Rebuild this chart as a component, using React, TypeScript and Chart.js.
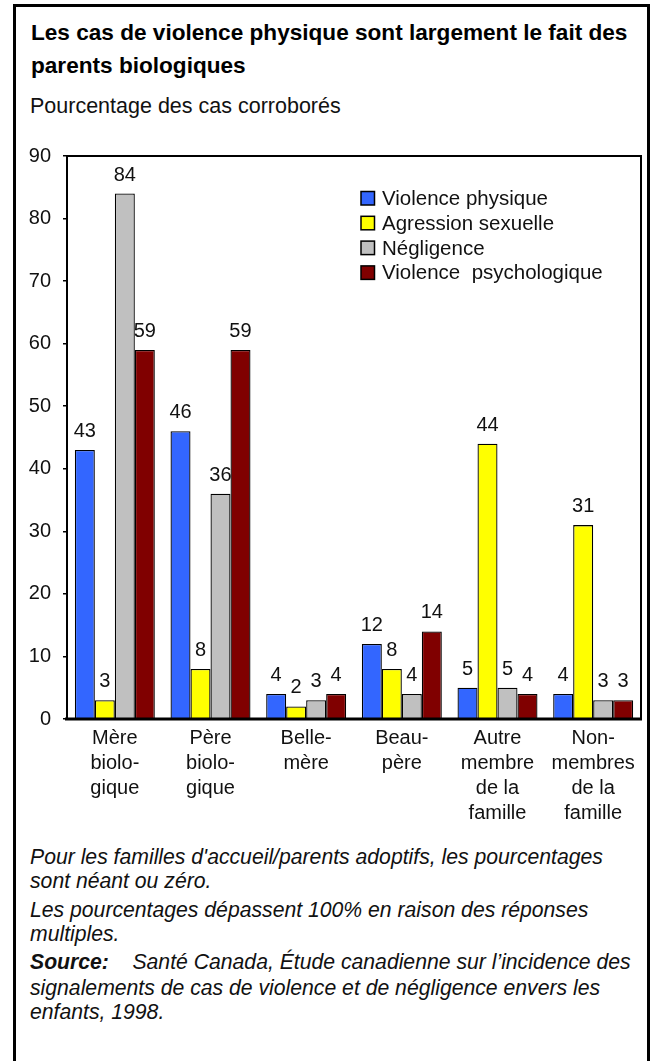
import React, { useEffect, useRef } from "react";
import { Chart, registerables } from "chart.js";

Chart.register(...registerables);

const FONT = '"Liberation Sans", Arial, Helvetica, sans-serif';

const categories: string[][] = [
  ["Mère", "biolo-", "gique"],
  ["Père", "biolo-", "gique"],
  ["Belle-", "mère"],
  ["Beau-", "père"],
  ["Autre", "membre", "de la", "famille"],
  ["Non-", "membres", "de la", "famille"],
];

const seriesNames = [
  "Violence physique",
  "Agression sexuelle",
  "Négligence",
  "Violence  psychologique",
];

const physicalAbuse = [43, 46, 4, 12, 5, 4];
const sexualAbuse = [3, 8, 2, 8, 44, 31];
const neglect = [84, 36, 3, 4, 5, 3];
const emotionalAbuse = [59, 59, 4, 14, 4, 3];

const seriesColors = ["#3366FF", "#FFFF00", "#C0C0C0", "#800000"];

const yMin = 0;
const yMax = 90;
const yStep = 10;

const titleLines = [
  "Les cas de violence physique sont largement le fait des",
  "parents biologiques",
];
const subtitle = "Pourcentage des cas corroborés";

const overlayPlugin = {
  id: "overlayPlugin",
  afterDatasetsDraw(chart: any) {
    const ctx = chart.ctx;
    const a = chart.chartArea;
    ctx.save();
    ctx.strokeStyle = "#000";
    ctx.lineWidth = 2;
    ctx.beginPath();
    ctx.moveTo(a.left, a.bottom);
    ctx.lineTo(a.left, a.top);
    ctx.lineTo(a.right, a.top);
    ctx.lineTo(a.right, a.bottom);
    ctx.stroke();
    ctx.lineWidth = 3;
    ctx.beginPath();
    ctx.moveTo(a.left - 2, a.bottom);
    ctx.lineTo(a.right + 1, a.bottom);
    ctx.stroke();

    ctx.font = `20px ${FONT}`;
    ctx.fillStyle = "#111";
    ctx.textAlign = "center";
    ctx.textBaseline = "alphabetic";
    chart.data.datasets.forEach((ds: any, i: number) => {
      const meta = chart.getDatasetMeta(i);
      meta.data.forEach((el: any, j: number) => {
        ctx.fillText(String(ds.data[j]), el.x, el.y - 13);
      });
    });

    const lx = 361;
    const baseY = 65;
    const step = 24.8;
    ctx.textAlign = "left";
    ctx.font = `20.5px ${FONT}`;
    chart.data.datasets.forEach((ds: any, i: number) => {
      const by = baseY + i * step;
      ctx.fillStyle = ds.backgroundColor;
      ctx.fillRect(lx, by - 13.5, 13.5, 13.5);
      ctx.strokeStyle = "#000";
      ctx.lineWidth = 1.5;
      ctx.strokeRect(lx, by - 13.5, 13.5, 13.5);
      ctx.fillStyle = "#111";
      ctx.fillText(ds.label, lx + 21, by);
    });
    ctx.restore();
  },
};

function BarChart() {
  const ref = useRef<HTMLCanvasElement | null>(null);
  useEffect(() => {
    if (!ref.current) return;
    const series = [physicalAbuse, sexualAbuse, neglect, emotionalAbuse];
    const chart = new Chart(ref.current, {
      type: "bar",
      data: {
        labels: categories,
        datasets: series.map((d, i) => ({
          label: seriesNames[i],
          data: d,
          backgroundColor: seriesColors[i],
          borderColor: "#000",
          borderWidth: 1.3,
          categoryPercentage: 0.836,
          barPercentage: 1,
        })),
      },
      options: {
        responsive: false,
        animation: false,
        devicePixelRatio: 1,
        layout: { padding: { top: 16, right: 9, left: 0, bottom: 0 } },
        plugins: {
          legend: { display: false },
          title: { display: false },
          tooltip: { enabled: false },
        },
        scales: {
          x: {
            grid: { display: false, drawTicks: false },
            border: { display: false },
            ticks: {
              padding: 7,
              color: "#111",
              font: { family: FONT, size: 20, lineHeight: 1.25 },
              maxRotation: 0,
              autoSkip: false,
            },
            afterFit: (s: any) => {
              s.height = 121;
              s.paddingLeft = 0;
              s.paddingRight = 0;
            },
          },
          y: {
            min: yMin,
            max: yMax,
            ticks: {
              stepSize: yStep,
              padding: 12,
              color: "#111",
              font: { family: FONT, size: 20 },
            },
            grid: {
              drawOnChartArea: false,
              drawTicks: true,
              tickLength: 4,
              color: "#000",
              lineWidth: 1.5,
            },
            border: { display: false },
            afterFit: (s: any) => {
              s.width = 67;
              s.paddingTop = 0;
              s.paddingBottom = 0;
            },
          },
        },
      },
      plugins: [overlayPlugin],
    });
    return () => chart.destroy();
  }, []);
  return (
    <canvas
      ref={ref}
      width={650}
      height={700}
      style={{ position: "absolute", left: 0, top: 140, width: 650, height: 700 }}
    />
  );
}

export default function App() {
  const foot: React.CSSProperties = {
    position: "absolute",
    left: 30,
    fontFamily: FONT,
    fontStyle: "italic",
    fontSize: 21.2,
    lineHeight: "25px",
    color: "#111",
    whiteSpace: "nowrap",
  };
  return (
    <div
      style={{
        position: "absolute",
        left: 0,
        top: 0,
        width: 650,
        height: 1061,
        overflow: "hidden",
        background: "#fff",
      }}
    >
      <div
        style={{
          position: "absolute",
          left: 13,
          top: 4,
          width: 637,
          height: 1100,
          border: "3px solid #000",
          boxSizing: "border-box",
        }}
      />
      <div
        style={{
          position: "absolute",
          left: 31,
          top: 16,
          fontFamily: FONT,
          fontWeight: "bold",
          fontSize: 22.6,
          lineHeight: "33px",
          color: "#000",
          whiteSpace: "nowrap",
        }}
      >
        {titleLines[0]}
        <br />
        {titleLines[1]}
      </div>
      <div
        style={{
          position: "absolute",
          left: 30,
          top: 94,
          fontFamily: FONT,
          fontSize: 21.5,
          lineHeight: "25px",
          color: "#111",
          whiteSpace: "nowrap",
        }}
      >
        {subtitle}
      </div>
      <BarChart />
      <div style={{ ...foot, top: 844 }}>
        Pour les familles d'accueil/parents adoptifs, les pourcentages
      </div>
      <div style={{ ...foot, top: 868 }}>sont néant ou zéro.</div>
      <div style={{ ...foot, top: 897 }}>
        Les pourcentages dépassent 100% en raison des réponses
      </div>
      <div style={{ ...foot, top: 921 }}>multiples.</div>
      <div style={{ ...foot, top: 949 }}>
        <b>Source:</b>
        <span style={{ whiteSpace: "pre" }}>{"    Santé Canada, Étude canadienne sur l’incidence des"}</span>
      </div>
      <div style={{ ...foot, top: 975 }}>
        signalements de cas de violence et de négligence envers les
      </div>
      <div style={{ ...foot, top: 999 }}>enfants, 1998.</div>
    </div>
  );
}
